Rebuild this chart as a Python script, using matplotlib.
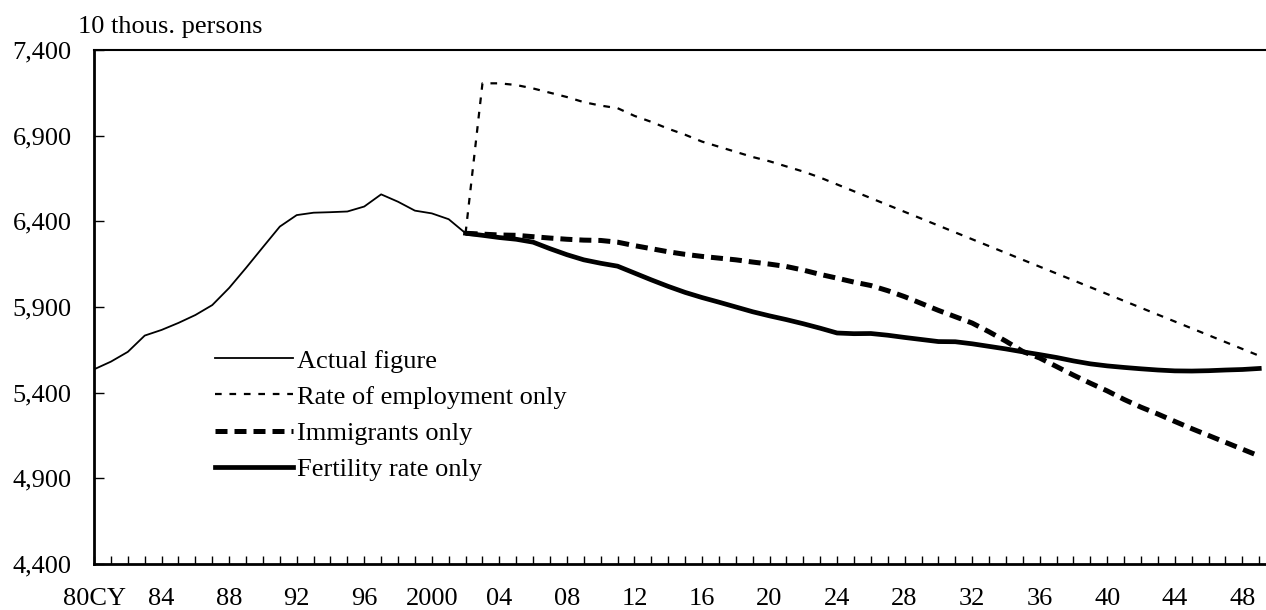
import numpy as np
import matplotlib
matplotlib.use('Agg')
import matplotlib.pyplot as plt

plt.rcParams['font.family'] = ['Liberation Serif', 'DejaVu Serif']

# actual employed persons, 1980-2002
actual_years = np.arange(1980, 2003)
actual = [5536, 5581, 5638, 5733, 5766, 5807, 5853, 5911, 6011, 6128,
          6249, 6369, 6436, 6450, 6453, 6457, 6486, 6557, 6514, 6462,
          6446, 6412, 6330]

# projections, 2002-2049
proj_years = np.arange(2002, 2050)
employment_only = [6330,
    7205, 7205, 7195, 7175, 7150, 7125, 7095, 7075, 7060, 7015,
    6980, 6940, 6905, 6865, 6835, 6805, 6775, 6750, 6720, 6690,
    6655, 6615, 6575, 6535, 6495, 6455, 6415, 6375, 6335, 6295,
    6255, 6215, 6175, 6135, 6095, 6055, 6015, 5975, 5935, 5895,
    5855, 5815, 5775, 5735, 5695, 5655, 5615]
immigrants_only = [6330,
    6325, 6320, 6318, 6310, 6302, 6295, 6290, 6288, 6278, 6258,
    6240, 6222, 6207, 6195, 6185, 6175, 6162, 6150, 6136, 6115,
    6090, 6068, 6045, 6025, 5995, 5960, 5920, 5880, 5843, 5806,
    5755, 5700, 5640, 5602, 5552, 5502, 5455, 5410, 5360, 5315,
    5275, 5232, 5190, 5150, 5110, 5070, 5030]
fertility_only = [6330,
    6318, 6305, 6295, 6278, 6240, 6205, 6175, 6155, 6138, 6098,
    6058, 6020, 5985, 5955, 5928, 5900, 5872, 5848, 5826, 5802,
    5776, 5748, 5744, 5745, 5735, 5722, 5710, 5698, 5697, 5685,
    5670, 5655, 5638, 5622, 5605, 5585, 5568, 5556, 5547, 5539,
    5532, 5527, 5526, 5528, 5532, 5535, 5541]

label_years = np.arange(1980, 2050, 4)
label_text = ['80CY', '84', '88', '92', '96', '2000', '04', '08', '12', '16',
              '20', '24', '28', '32', '36', '40', '44', '48']
yticks = [4400, 4900, 5400, 5900, 6400, 6900, 7400]

fig = plt.figure(figsize=(12.66, 6.10), dpi=100)
ax = fig.add_axes([0.0743, 0.0754, 0.9257, 0.8428])

ax.plot(actual_years, actual, color='black', lw=1.3, label='Actual figure')
ax.plot(proj_years, employment_only, color='black', lw=1.6,
        dashes=(3, 3.5), label='Rate of employment only')
ax.plot(proj_years, immigrants_only, color='black', lw=3.6,
        dashes=(2.4, 1.4), label='Immigrants only')
ax.plot(proj_years, fertility_only, color='black', lw=3.4,
        label='Fertility rate only')

ax.set_xlim(1980, 2049.4)
ax.set_ylim(4400, 7400)
ax.set_xticks(label_years)
ax.set_xticklabels(label_text)
ax.set_xticks(np.arange(1980, 2050), minor=True)
ax.set_yticks(yticks)
ax.set_yticklabels([f'{v:,}' for v in yticks])

ax.tick_params(axis='x', which='both', direction='in', length=6, width=1,
               pad=17, labelsize=19)
ax.tick_params(axis='y', direction='in', length=7, width=1, pad=16,
               labelsize=19)

for side in ['left', 'bottom']:
    ax.spines[side].set_linewidth(2)
ax.spines['top'].set_linewidth(1.5)
ax.spines['right'].set_visible(False)

fig.text(0.0616, 0.956, '10 thous. persons', fontsize=19, va='center')

ax.legend(loc='upper left', bbox_to_anchor=(0.103, 0.418), frameon=False,
          fontsize=19, handlelength=2.95, handletextpad=0.15,
          labelspacing=0.48, borderpad=0, borderaxespad=0)

fig.savefig('out.png', dpi=100)
